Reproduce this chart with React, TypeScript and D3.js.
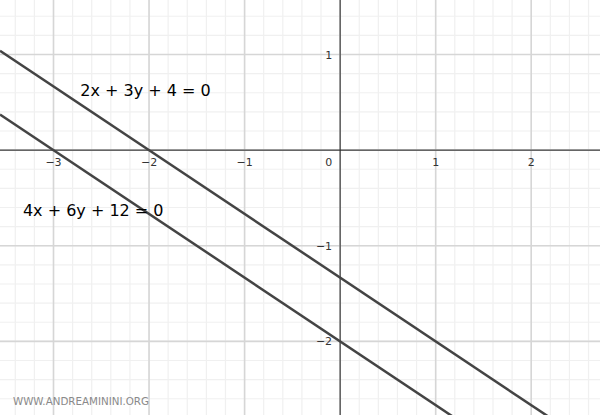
import React from "react";
import * as d3 from "d3";

// view window of the cartesian plane
const xDomain = [-3.56, 2.72];
const yDomain = [1.57, -2.77];

const xTicks = [-3, -2, -1, 1, 2];
const yTicks = [1, -1, -2];

// lines written as a*x + b*y + c = 0
const equations = [
  { a: 2, b: 3, c: 4, label: "2x + 3y + 4 = 0", lx: -2.72, ly: 0.57 },
  { a: 4, b: 6, c: 12, label: "4x + 6y + 12 = 0", lx: -3.32, ly: -0.69 },
];

const WIDTH = 600;
const HEIGHT = 415;

const App = () => {
  const x = d3.scaleLinear().domain(xDomain).range([0, WIDTH]);
  const y = d3.scaleLinear().domain(yDomain).range([0, HEIGHT]);

  const minorX = d3.range(-3.6, 2.8, 0.2).map((v) => +v.toFixed(1));
  const minorY = d3.range(-2.8, 1.6, 0.2).map((v) => +v.toFixed(1));
  const majorX = d3.range(-3, 3, 1);
  const majorY = d3.range(-2, 2, 1);

  const line = d3
    .line<number>()
    .x((d) => x(d[0]))
    .y((d) => y(d[1]));

  const fmt = (v: number) => (v < 0 ? "\u2212" + Math.abs(v) : String(v));
  const font = "'DejaVu Sans', sans-serif";

  return (
    <svg
      width={WIDTH}
      height={HEIGHT}
      style={{ position: "absolute", top: 0, left: 0, background: "#fff" }}
    >
      {/* minor grid */}
      {minorX.map((v) => (
        <line key={"mx" + v} x1={x(v)} x2={x(v)} y1={0} y2={HEIGHT} stroke="#f0f0f0" strokeWidth={1.2} />
      ))}
      {minorY.map((v) => (
        <line key={"my" + v} x1={0} x2={WIDTH} y1={y(v)} y2={y(v)} stroke="#f0f0f0" strokeWidth={1.2} />
      ))}
      {/* major grid */}
      {majorX.map((v) => (
        <line key={"Mx" + v} x1={x(v)} x2={x(v)} y1={0} y2={HEIGHT} stroke="#d6d6d6" strokeWidth={1.6} />
      ))}
      {majorY.map((v) => (
        <line key={"My" + v} x1={0} x2={WIDTH} y1={y(v)} y2={y(v)} stroke="#d6d6d6" strokeWidth={1.6} />
      ))}

      {/* axes */}
      <line x1={0} x2={WIDTH} y1={y(0)} y2={y(0)} stroke="#222" strokeWidth={1} />
      <line x1={x(0)} x2={x(0)} y1={0} y2={HEIGHT} stroke="#222" strokeWidth={1} />

      {/* tick labels */}
      {xTicks.map((v) => (
        <text key={"tx" + v} x={x(v)} y={y(0) + 16} textAnchor="middle" fontSize={11} fill="#333" fontFamily={font}>
          {fmt(v)}
        </text>
      ))}
      {yTicks.map((v) => (
        <text key={"ty" + v} x={x(0) - 8} y={y(v) + 4} textAnchor="end" fontSize={11} fill="#333" fontFamily={font}>
          {fmt(v)}
        </text>
      ))}
      <text x={x(0) - 8} y={y(0) + 16} textAnchor="end" fontSize={11} fill="#333" fontFamily={font}>
        0
      </text>

      {/* lines */}
      {equations.map((e) => {
        const f = (xv: number) => -(e.a * xv + e.c) / e.b;
        const pts: [number, number][] = xDomain.map((xv) => [xv, f(xv)]);
        return (
          <path key={e.label} d={line(pts as any) || ""} fill="none" stroke="#444" strokeWidth={2.5} />
        );
      })}

      {/* equation labels */}
      {equations.map((e) => (
        <text key={"l" + e.label} x={x(e.lx)} y={y(e.ly)} fontSize={16} fill="#000" fontFamily={font}>
          {e.label}
        </text>
      ))}

      <text x={13} y={405} fontSize={10.3} fill="#8a8a8a" fontFamily={font}>
        WWW.ANDREAMININI.ORG
      </text>
    </svg>
  );
};

export default App;
